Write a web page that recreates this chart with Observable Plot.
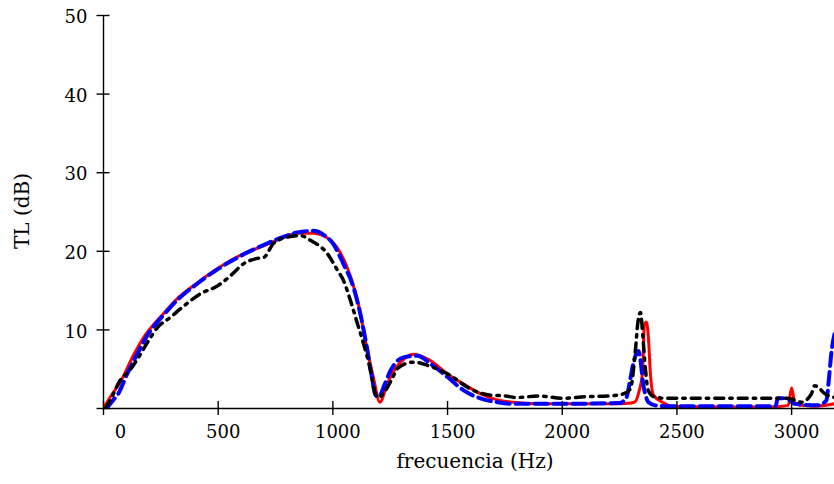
<!DOCTYPE html>
<html><head><meta charset="utf-8">
<script src="https://cdn.jsdelivr.net/npm/d3@7"></script>
<script src="https://cdn.jsdelivr.net/npm/@observablehq/plot@0.6"></script>
<style>body{margin:0;background:#fff}</style>
</head><body><div id="chart"></div>
<script>
const xTicks = [0, 500, 1000, 1500, 2000, 2500, 3000];
const yTicks = [0, 10, 20, 30, 40, 50];
const xLabel = "frecuencia (Hz)";
const yLabel = "TL (dB)";

const redF = [0, 30, 74, 131, 174, 262, 322, 410, 497, 597, 698, 772, 845, 915, 990, 1033, 1077, 1111, 1150, 1177, 1205, 1238, 1273, 1310, 1351, 1390, 1425, 1500, 1570, 1643, 1717, 1787, 1900, 2100, 2250, 2300, 2319, 2335, 2350, 2358, 2367, 2376, 2384, 2398, 2437, 2480, 2700, 2900, 2985, 3000, 3015, 3040, 3100, 3187];
const redTL = [0, 1.5, 3.4, 6.8, 9.0, 12.1, 14.0, 16.0, 17.8, 19.5, 20.7, 21.6, 22.3, 22.3, 21.4, 19.8, 16.8, 13.3, 7.5, 3.9, 0.8, 3.2, 5.1, 6.3, 6.9, 6.6, 6.1, 4.4, 3.1, 1.9, 1.1, 0.8, 0.6, 0.6, 0.6, 0.7, 0.9, 2.2, 4.6, 10.6, 11.0, 8.9, 4.6, 1.7, 0.8, 0.3, 0.2, 0.2, 0.4, 2.6, 0.6, 0.4, 0.3, 0.6];

const blueF = [13, 40, 65, 100, 148, 200, 262, 322, 410, 497, 597, 698, 772, 845, 915, 960, 1000, 1046, 1090, 1120, 1150, 1170, 1186, 1200, 1225, 1251, 1308, 1369, 1425, 1500, 1570, 1643, 1717, 1787, 2000, 2250, 2280, 2297, 2312, 2332, 2342, 2352, 2363, 2376, 2406, 2450, 2700, 2930, 2940, 2982, 3000, 3012, 3112, 3151, 3165, 3173, 3187];
const blueTL = [0, 1.0, 1.9, 4.2, 7.0, 9.7, 11.9, 13.8, 15.9, 17.7, 19.4, 20.8, 21.7, 22.4, 22.6, 22.1, 21.0, 18.4, 15.4, 12.0, 7.5, 4.0, 1.7, 1.5, 3.0, 4.8, 6.5, 6.7, 5.7, 4.0, 2.3, 1.3, 0.8, 0.6, 0.6, 0.7, 1.4, 3.8, 6.0, 7.3, 6.0, 3.3, 1.7, 0.8, 0.4, 0.3, 0.3, 0.3, 1.3, 1.3, 0.8, 0.6, 0.4, 1.0, 4.5, 7.0, 9.5];

const blackF = [9, 44, 65, 118, 161, 200, 235, 292, 336, 423, 497, 554, 610, 671, 698, 741, 802, 859, 902, 976, 1020, 1046, 1077, 1107, 1133, 1164, 1177, 1199, 1229, 1260, 1282, 1351, 1412, 1500, 1613, 1687, 1750, 1800, 1900, 2000, 2100, 2200, 2260, 2297, 2319, 2330, 2341, 2352, 2362, 2375, 2400, 2450, 2700, 2980, 3000, 3043, 3087, 3100, 3120, 3140, 3187];
const blackTL = [0, 1.9, 3.2, 5.0, 6.9, 8.8, 10.3, 11.6, 12.7, 14.6, 15.6, 16.9, 18.4, 19.1, 19.2, 21.0, 21.8, 22.0, 21.4, 19.7, 17.6, 16.3, 13.7, 10.8, 8.3, 4.8, 2.7, 1.4, 2.3, 3.9, 5.1, 5.9, 5.5, 4.4, 2.3, 1.7, 1.6, 1.4, 1.6, 1.3, 1.5, 1.6, 1.8, 2.5, 7.4, 11.0, 12.2, 9.0, 5.2, 2.3, 1.5, 1.3, 1.3, 1.3, 1.2, 0.8, 1.9, 2.9, 2.6, 2.0, 1.4];

const rows = (F, T) => F.map((f, i) => ({f, tl: T[i]}));
const red = rows(redF, redTL);
const blue = rows(blueF, blueTL);
const black = rows(blackF, blackTL);
const fmt = d => String(d);

const chart = Plot.plot({
  width: 834, height: 484,
  marginLeft: 103, marginRight: 0, marginTop: 15, marginBottom: 76,
  style: {fontFamily: "'DejaVu Serif', serif", fontSize: "18px", color: "#000", background: "#fff", overflow: "visible"},
  x: {domain: [0, 3187], label: null},
  y: {domain: [0, 50], label: null},
  marks: [
    Plot.line(red, {x: "f", y: "tl", stroke: "#ff0000", strokeWidth: 3, curve: "monotone-x", clip: true}),
    Plot.line(blue, {x: "f", y: "tl", stroke: "#0000ff", strokeWidth: 4, strokeDasharray: "13,6", curve: "monotone-x", clip: true}),
    Plot.line(black, {x: "f", y: "tl", stroke: "#000", strokeWidth: 3.5, strokeDasharray: "9,6,2.5,6", curve: "monotone-x", clip: true}),
    Plot.ruleY([0], {stroke: "#000", strokeWidth: 1.4}),
    Plot.ruleX([0], {stroke: "#000", strokeWidth: 1.4}),
    Plot.axisX(xTicks, {tickSize: 14, dy: -7, tickFormat: () => "", strokeWidth: 1.4, stroke: "#000"}),
    Plot.axisX(xTicks.filter(d => d !== 0), {tickSize: 0, tickPadding: 17, dx: 5, fill: "#000", tickFormat: fmt}),
    Plot.axisX([0], {tickSize: 0, tickPadding: 17, dx: 17, fill: "#000", tickFormat: fmt}),
    Plot.axisY(yTicks, {tickSize: 13, dx: 6.5, tickFormat: () => "", strokeWidth: 1.4, stroke: "#000"}),
    Plot.axisY(yTicks.filter(d => d !== 0), {tickSize: 0, tickPadding: 16, dy: 2, fill: "#000", tickFormat: fmt}),
    Plot.text([xLabel], {frameAnchor: "bottom", dy: 59, dx: 6, fontSize: 20, fill: "#000"}),
    Plot.text([yLabel], {frameAnchor: "left", textAnchor: "middle", rotate: -90, dx: -81, dy: -1, fontSize: 20, fill: "#000"})
  ]
});
document.getElementById("chart").append(chart);
</script>
</body></html>
